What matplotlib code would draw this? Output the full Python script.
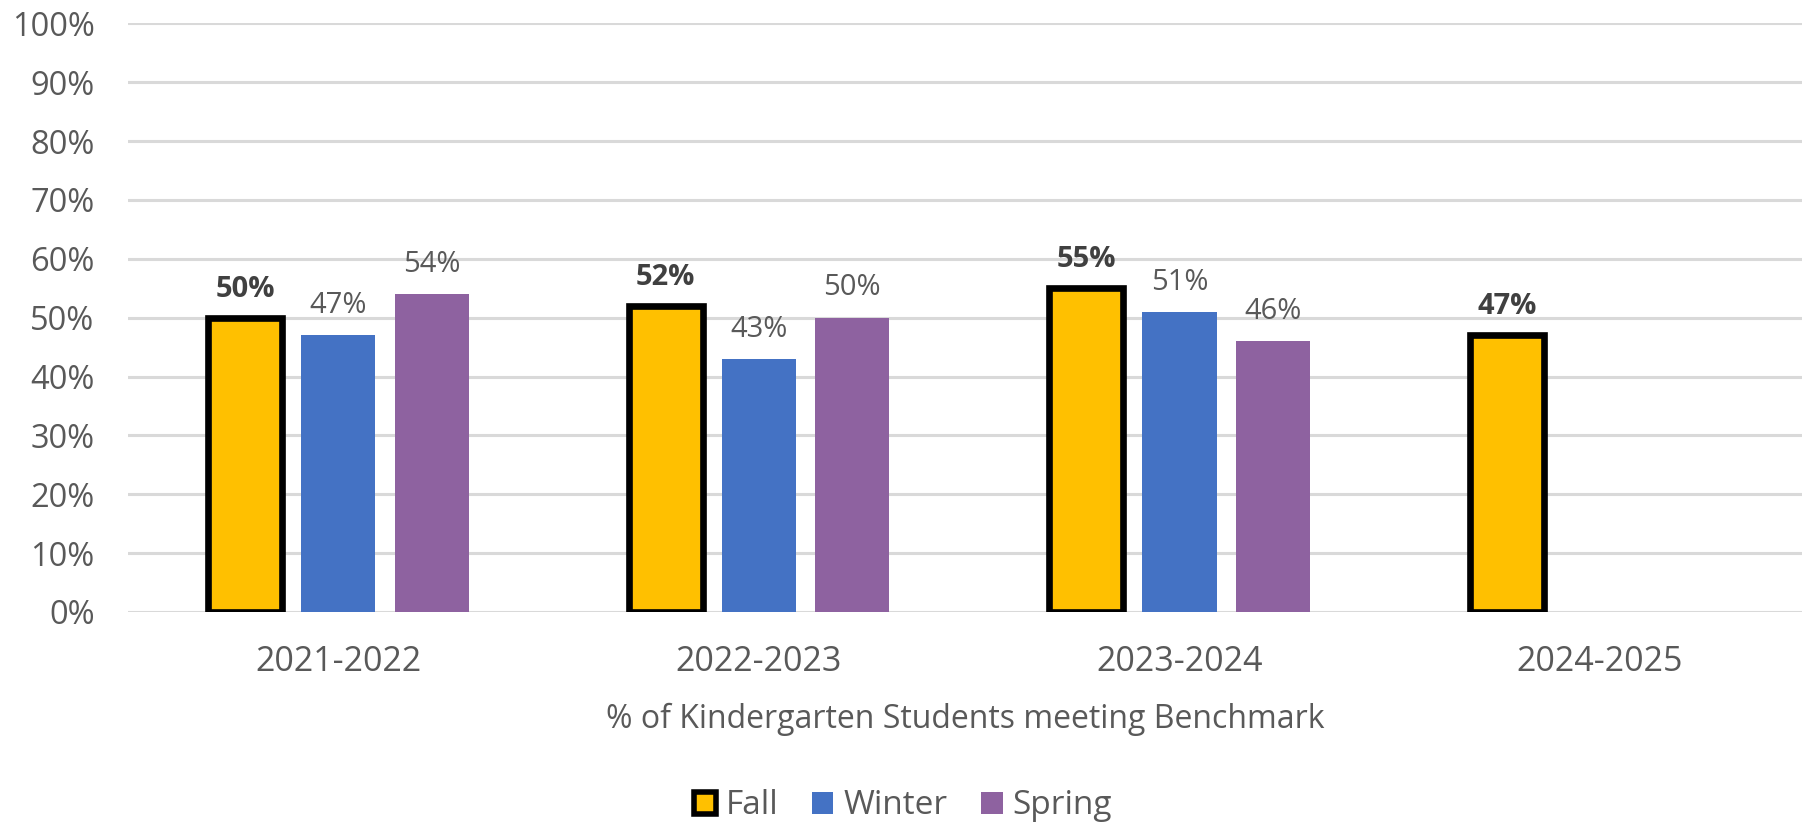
import numpy as np
import matplotlib.pyplot as plt
from matplotlib.patches import Patch

plt.rcParams['font.family'] = ['Open Sans', 'DejaVu Sans']

years = ["2021-2022", "2022-2023", "2023-2024", "2024-2025"]
fall = [0.50, 0.52, 0.55, 0.47]
winter = [0.47, 0.43, 0.51, np.nan]
spring = [0.54, 0.50, 0.46, np.nan]

FALL_C = "#FFC000"
WINTER_C = "#4472C4"
SPRING_C = "#8E62A0"
TEXT_C = "#595959"
GRID_C = "#D9D9D9"

fig = plt.figure(figsize=(18.02, 8.24), dpi=100)
ax = fig.add_axes([128 / 1802, 1 - 612 / 824, 1 - 128 / 1802, (612 - 23.3) / 824])

x = np.arange(len(years))
w = 0.176
off = 0.222

ax.bar(x - off, fall, w, color=FALL_C, edgecolor="black", linewidth=4.8, zorder=3)
ax.bar(x, winter, w, color=WINTER_C, zorder=3)
ax.bar(x + off, spring, w, color=SPRING_C, zorder=3)

# data labels
for xi, v in zip(x, fall):
    ax.annotate(f"{v:.0%}", (xi - off, v), xytext=(0, 15), textcoords="offset points",
                ha="center", va="baseline", fontsize=21, fontweight="bold", color="#404040")
for xs, vals in [(x, winter), (x + off, spring)]:
    for xi, v in zip(xs, vals):
        if np.isnan(v):
            continue
        ax.annotate(f"{v:.0%}", (xi, v), xytext=(0, 16), textcoords="offset points",
                    ha="center", va="baseline", fontsize=21, color=TEXT_C)

ax.set_ylim(0, 1.0)
ax.set_xlim(-0.5, 3.48)
ax.set_yticks(np.arange(0, 1.01, 0.1))
ax.set_yticklabels([f"{int(round(t * 100))}%" for t in np.arange(0, 1.01, 0.1)])
ax.set_xticks(x)
ax.set_xticklabels(years)
ax.tick_params(axis="y", length=0, pad=24, labelsize=23.5, labelcolor=TEXT_C)
ax.tick_params(axis="x", length=0, pad=24, labelsize=24.5, labelcolor=TEXT_C)

ax.grid(axis="y", color=GRID_C, linewidth=2.2, zorder=0)
ax.set_axisbelow(True)
for s in ax.spines.values():
    s.set_visible(False)

ax.set_xlabel("% of Kindergarten Students meeting Benchmark", fontsize=23, color=TEXT_C, labelpad=17)

handles = [
    Patch(facecolor=FALL_C, edgecolor="black", linewidth=4, label="Fall"),
    Patch(facecolor=WINTER_C, label="Winter"),
    Patch(facecolor=SPRING_C, label="Spring"),
]
leg = fig.legend(handles=handles, loc="center", bbox_to_anchor=(903 / 1802, 1 - 806 / 824),
                 ncol=3, frameon=False, fontsize=24, handlelength=0.65, handleheight=0.65,
                 handletextpad=0.3, columnspacing=1.0, labelcolor=TEXT_C)

fig.savefig("out.png", dpi=100)
